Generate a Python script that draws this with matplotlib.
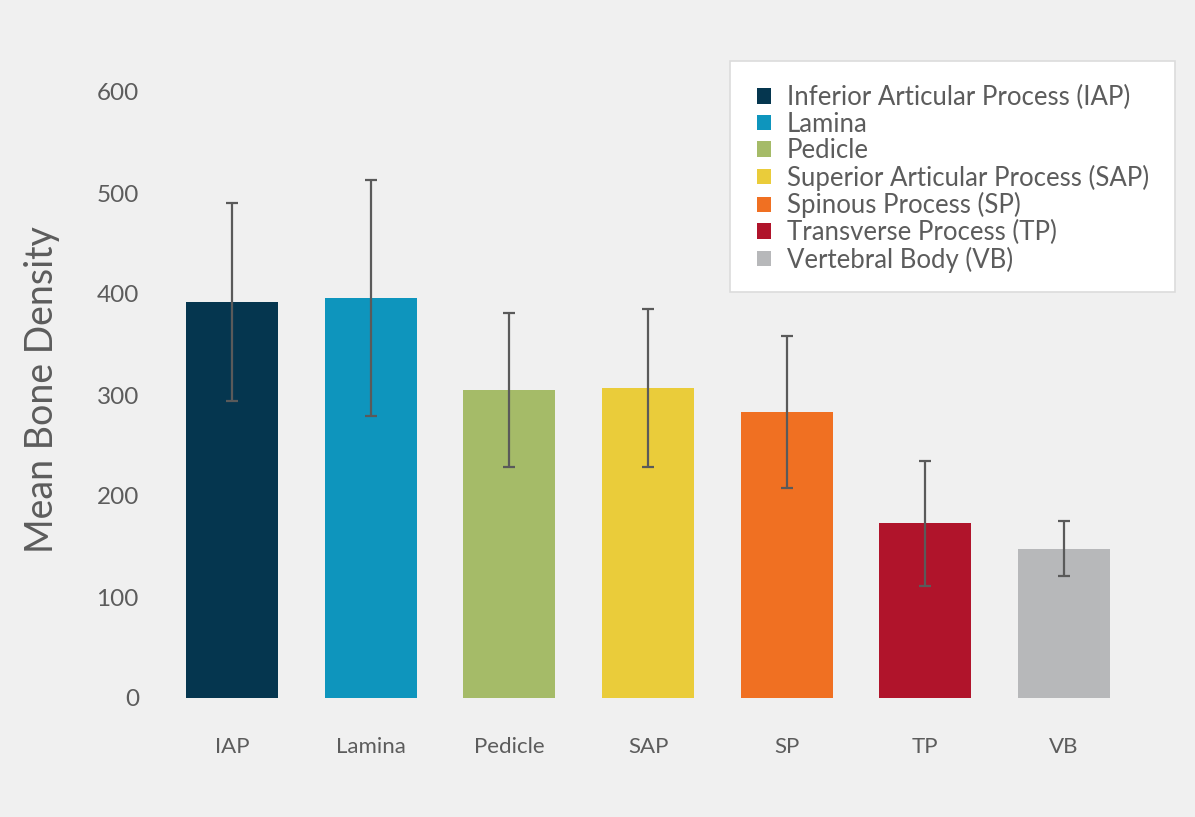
import matplotlib
matplotlib.use("Agg")
import matplotlib.pyplot as plt
from matplotlib.patches import Patch, Rectangle

categories = ["IAP", "Lamina", "Pedicle", "SAP", "SP", "TP", "VB"]
legend_labels = ["Inferior Articular Process (IAP)", "Lamina", "Pedicle",
                 "Superior Articular Process (SAP)", "Spinous Process (SP)",
                 "Transverse Process (TP)", "Vertebral Body (VB)"]
means = [392, 396, 305, 307, 283, 173, 148]
errors = [98, 117, 76, 78, 75, 62, 27]
colors = ["#05364f", "#0e95bd", "#a5bb68", "#eacc3a", "#f07022", "#b0142b", "#b7b8ba"]
yticks = [0, 100, 200, 300, 400, 500, 600]

plt.rcParams['font.family'] = ['Lato', 'DejaVu Sans']
TXT = "#5c5c5c"
W, H = 1195, 817
fig = plt.figure(figsize=(W/100, H/100), dpi=100)
fig.patch.set_facecolor("#f0f0f0")
ax = fig.add_axes([150/W, 1-698/H, (1175-150)/W, (698-92)/H])
ax.set_facecolor("#f0f0f0")

x = list(range(len(categories)))
ax.bar(x, means, width=0.665, color=colors, zorder=2)
ax.errorbar(x, means, yerr=errors, fmt='none', ecolor="#5a5a5a", elinewidth=1.6,
            capsize=4.3, capthick=1.6, zorder=3)

ax.set_xlim(-0.591, 6.8)
ax.set_ylim(0, 600)
ax.set_yticks(yticks)
ax.set_yticklabels([str(v) for v in yticks])
ax.set_xticks(x)
ax.set_xticklabels(categories)
for s in ax.spines.values():
    s.set_visible(False)
ax.tick_params(axis='y', length=0, pad=8, labelsize=17.5, labelcolor=TXT)
ax.tick_params(axis='x', length=0, pad=28, labelsize=16, labelcolor=TXT)

fig.text(42/W, 1-390/H, "Mean Bone Density", rotation=90, ha='center', va='center',
         fontsize=27, color=TXT)

# legend frame
fig.patches.append(Rectangle((730/W, 1-292/H), (1175-730)/W, (292-61)/H,
                             transform=fig.transFigure, facecolor='white',
                             edgecolor='#dcdcdc', linewidth=1.2, zorder=1))

handles = [Patch(facecolor=c, edgecolor='none') for c in colors]
leg = fig.legend(handles, legend_labels, loc='upper left',
                 bbox_to_anchor=(757/W, 1-85/H), frameon=False, fontsize=18.5,
                 handlelength=0.55, handleheight=0.55, handletextpad=0.6,
                 labelspacing=0.06, borderpad=0, borderaxespad=0)
for t in leg.get_texts():
    t.set_color(TXT)

fig.savefig("out.png", dpi=100, facecolor=fig.get_facecolor())
